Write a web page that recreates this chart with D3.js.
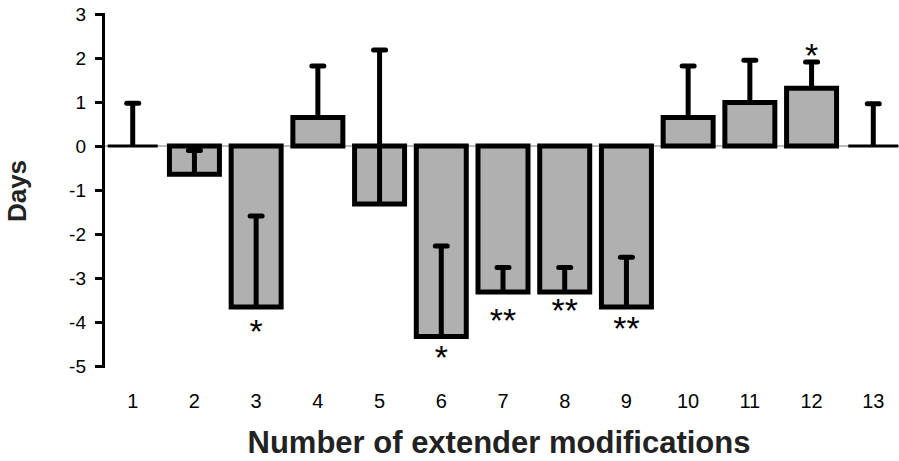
<!DOCTYPE html>
<html>
<head>
<meta charset="utf-8">
<script src="https://cdn.jsdelivr.net/npm/d3@7"></script>
<style>
  body { margin: 0; background: #fff; }
  svg { display: block; font-family: "Liberation Sans", Arial, sans-serif; }
  .y.axis .domain { stroke: #000; stroke-width: 3; }
  .y.axis .tick line { stroke: #000; stroke-width: 3; }
  .y.axis .tick text { font-size: 19px; fill: #000; }
</style>
</head>
<body>
<svg id="chart" width="899" height="461"></svg>
<script>
// 数据
const categories = ['1', '2', '3', '4', '5', '6', '7', '8', '9', '10', '11', '12', '13']
const meanDays = [0, -0.64, -3.66, 0.65, -1.32, -4.33, -3.32, -3.32, -3.66, 0.65, 0.99, 1.31, 0]
const errDays = [0.97, 0.54, 2.07, 1.17, 3.5, 2.06, 0.56, 0.56, 1.13, 1.17, 0.96, 0.6, 0.96]
const stars = ['', '', '*', '', '', '*', '**', '**', '**', '', '', '*', '']
// star marks placed at these day values (centre of the glyph)
const starAt = [null, null, -4.05, null, null, -4.64, -3.8, -3.57, -3.98, null, null, 2.23, null]
const yTicks = [-5, -4, -3, -2, -1, 0, 1, 2, 3]

const svg = d3.select('#chart')
const axisX = 103

const x = d3.scaleBand().domain(categories).range([96, 910]).paddingInner(0.19).paddingOuter(0.19)
const y = d3.scaleLinear().domain([-5, 3]).range([366, 14])

const rows = categories.map((c, i) => ({ c, v: meanDays[i], e: errDays[i], s: stars[i], sy: starAt[i] }))

// 零线
svg.append('line')
  .attr('x1', axisX).attr('x2', 899)
  .attr('y1', y(0)).attr('y2', y(0))
  .attr('stroke', '#777').attr('stroke-width', 1)

// 条形 (path so that zero-height bars still show a stroke)
svg.append('g').selectAll('path.bar')
  .data(rows)
  .join('path')
  .attr('class', 'bar')
  .attr('d', d => {
    const x0 = x(d.c), x1 = x0 + x.bandwidth()
    const ya = y(0), yb = y(d.v)
    return `M${x0},${ya}H${x1}V${yb}H${x0}Z`
  })
  .attr('fill', '#b0b0b0')
  .attr('stroke', '#000')
  .attr('stroke-width', d => d.v === 0 ? 3 : 5)

// 误差线
const eg = svg.append('g')
eg.selectAll('line.err')
  .data(rows)
  .join('line')
  .attr('x1', d => x(d.c) + x.bandwidth() / 2)
  .attr('x2', d => x(d.c) + x.bandwidth() / 2)
  .attr('y1', d => y(d.v))
  .attr('y2', d => y(d.v + d.e))
  .attr('stroke', '#000').attr('stroke-width', 5)
eg.selectAll('line.cap')
  .data(rows)
  .join('line')
  .attr('x1', d => x(d.c) + x.bandwidth() / 2 - 6)
  .attr('x2', d => x(d.c) + x.bandwidth() / 2 + 6)
  .attr('y1', d => y(d.v + d.e))
  .attr('y2', d => y(d.v + d.e))
  .attr('stroke', '#000').attr('stroke-width', 5).attr('stroke-linecap', 'round')

// 显著性星号
svg.append('g').selectAll('text.star')
  .data(rows.filter(d => d.s))
  .join('text')
  .attr('x', d => x(d.c) + x.bandwidth() / 2)
  .attr('y', d => y(d.sy) + 19)
  .attr('text-anchor', 'middle')
  .attr('font-size', 34)
  .attr('fill', '#000')
  .text(d => d.s)

// Y 轴
svg.append('g')
  .attr('class', 'y axis')
  .attr('transform', `translate(${axisX},0)`)
  .call(d3.axisLeft(y).tickValues(yTicks).tickFormat(d => String(d)).tickSize(8).tickSizeOuter(8).tickPadding(9))

// X 轴标签
svg.append('g').selectAll('text.xl')
  .data(categories)
  .join('text')
  .attr('x', d => x(d) + x.bandwidth() / 2)
  .attr('y', 408)
  .attr('text-anchor', 'middle')
  .attr('font-size', 20)
  .attr('fill', '#000')
  .text(d => d)

svg.append('text')
  .attr('x', 499)
  .attr('y', 453)
  .attr('text-anchor', 'middle')
  .attr('font-size', 31)
  .attr('font-weight', 'bold')
  .attr('fill', '#222')
  .text('Number of extender modifications')

svg.append('text')
  .attr('transform', 'translate(26,191) rotate(-90)')
  .attr('text-anchor', 'middle')
  .attr('font-size', 26)
  .attr('font-weight', 'bold')
  .attr('fill', '#222')
  .text('Days')
</script>
</body>
</html>
